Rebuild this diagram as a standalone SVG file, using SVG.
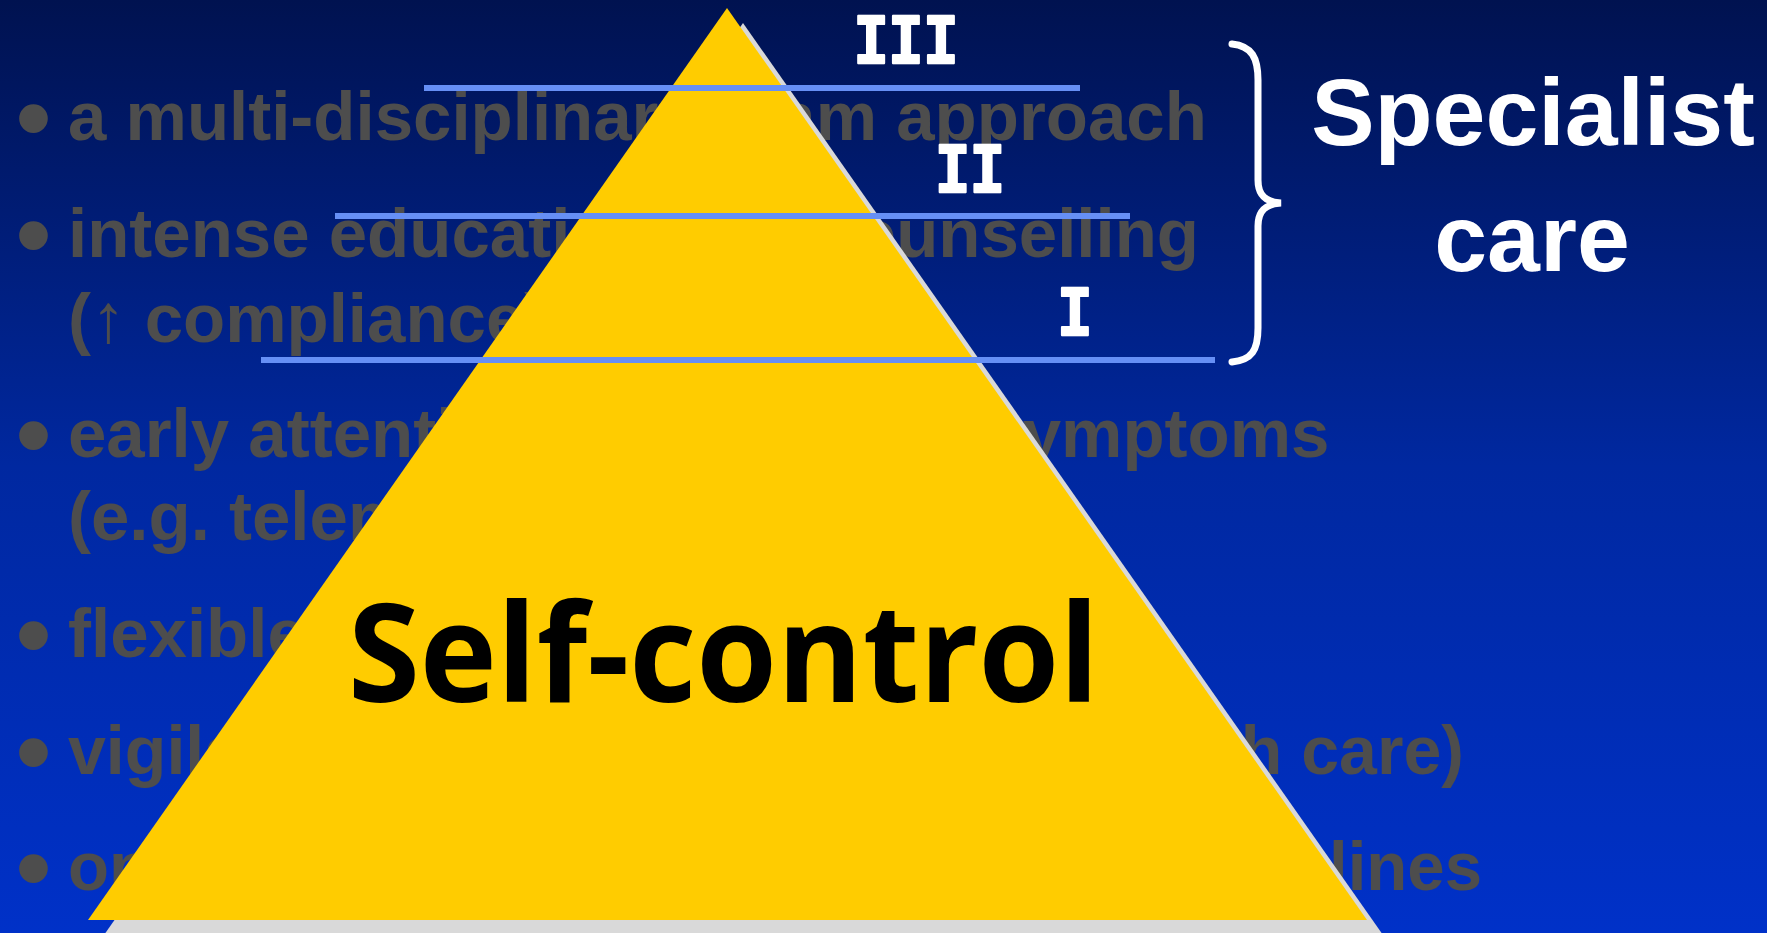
<svg xmlns="http://www.w3.org/2000/svg" width="1767" height="933" viewBox="0 0 1767 933">
<defs>
<linearGradient id="bg" x1="0" y1="0" x2="0" y2="1">
<stop offset="0" stop-color="#001250"/>
<stop offset="0.5" stop-color="#0028a0"/>
<stop offset="1" stop-color="#0031c8"/>
</linearGradient>
<style>
.bul{font-family:"Liberation Sans",Arial,sans-serif;font-weight:bold;font-size:69px;fill:#4d4d4d}
.dot{font-family:"Liberation Sans",Arial,sans-serif;font-weight:bold;font-size:100px;fill:#4d4d4d}
.lvl{font-family:"Liberation Mono","Courier New",monospace;font-weight:bold;font-size:58px;fill:#ffffff;stroke:#ffffff;stroke-width:2;stroke-linejoin:round}
.lvline{stroke:#668ff5;stroke-width:6}
.spec{font-family:"Liberation Sans",Arial,sans-serif;font-weight:bold;font-size:95px;fill:#ffffff;text-anchor:middle}
</style>
</defs>
<rect x="0" y="0" width="1767" height="933" fill="url(#bg)"/>
<g id="bullets">
<text class="dot" x="16" y="152">•</text><text class="bul" x="68" y="140">a multi-disciplinary team approach</text>
<text class="dot" x="16" y="269">•</text><text class="bul" x="68" y="257">intense education and counselling</text>
<text class="bul" x="68" y="342">(<tspan font-weight="normal">↑</tspan> compliance)</text>
<text class="dot" x="16" y="469">•</text><text class="bul" x="68" y="457">early attention to signs and symptoms</text>
<text class="bul" x="68" y="540">(e.g. telemonitoring)</text>
<text class="dot" x="16" y="669">•</text><text class="bul" x="68" y="657">flexible diuretic regimen</text>
<text class="dot" x="16" y="786">•</text><text class="bul" x="68" y="774" textLength="1396" lengthAdjust="spacingAndGlyphs">vigilant follow-up (nurse-led outreach care)</text>
<text class="dot" x="16" y="902">•</text><text class="bul" x="68" y="890" textLength="1414" lengthAdjust="spacingAndGlyphs">optimised treatment according to guidelines</text>
</g>
<g id="pyramid">
<polygon points="743,23 104,935 1383,935" fill="#d9d9d9"/>
<polygon points="727,8 88,920 1367,920" fill="#ffcc00"/>
</g>
<g id="levels">
<line class="lvline" x1="424" y1="88" x2="1080" y2="88"/>
<line class="lvline" x1="335" y1="216" x2="1130" y2="216"/>
<line class="lvline" x1="261" y1="360" x2="1215" y2="360"/>
<text class="lvl" x="906" y="63" text-anchor="middle" transform="translate(906 63) scale(1 1.22) translate(-906 -63)">III</text>
<text class="lvl" x="970" y="192" text-anchor="middle" transform="translate(970 192) scale(1 1.22) translate(-970 -192)">II</text>
<text class="lvl" x="1075" y="335" text-anchor="middle" transform="translate(1075 335) scale(1 1.22) translate(-1075 -335)">I</text>
</g>
<g id="brace">
<path d="M1232,44 C1252,46 1258,58 1258,80 L1258,180 C1258,196 1266,202 1281,203 C1266,204 1258,210 1258,226 L1258,328 C1258,350 1252,360 1232,362" fill="none" stroke="#ffffff" stroke-width="7" stroke-linecap="round"/>
</g>
<g id="specialist">
<text class="spec" x="1533" y="145">Specialist</text>
<text class="spec" x="1532" y="271">care</text>
</g>
<g id="selfcontrol">
<text x="348" y="702" font-family="'Comic Sans MS','Open Sans',sans-serif" font-weight="bold" font-size="136" fill="#000000" textLength="751" lengthAdjust="spacingAndGlyphs">Self-control</text>
</g>
</svg>
